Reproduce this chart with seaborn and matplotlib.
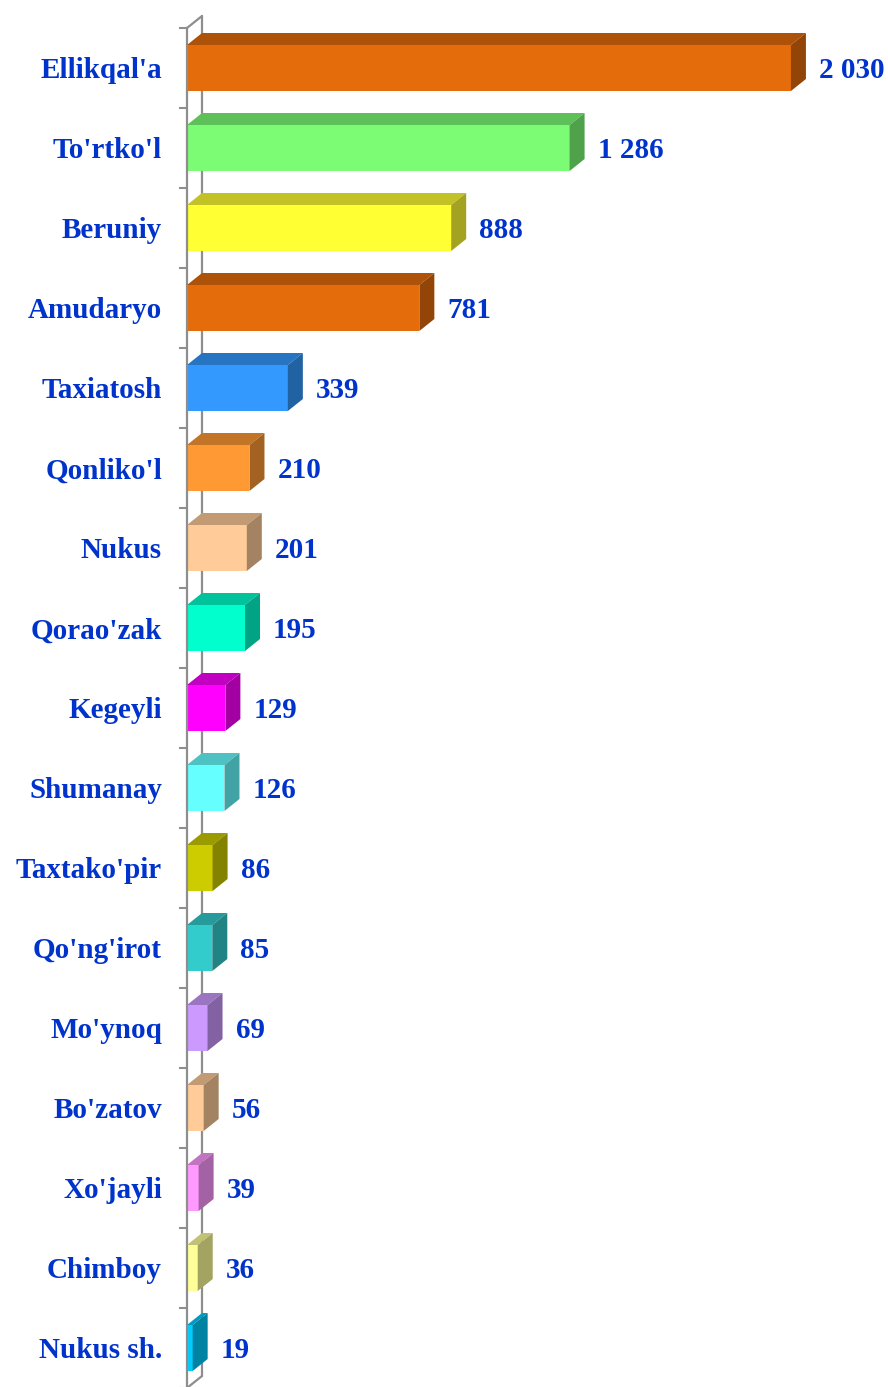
import numpy as np
import matplotlib
matplotlib.use("Agg")
import matplotlib.pyplot as plt
import seaborn as sns
from matplotlib.patches import Polygon
from matplotlib.lines import Line2D
from matplotlib import transforms, colors as mcolors

# data
regions = ["Ellikqal'a", "To'rtko'l", "Beruniy", "Amudaryo", "Taxiatosh", "Qonliko'l",
           "Nukus", "Qorao'zak", "Kegeyli", "Shumanay", "Taxtako'pir", "Qo'ng'irot",
           "Mo'ynoq", "Bo'zatov", "Xo'jayli", "Chimboy", "Nukus sh."]
values = [2030, 1286, 888, 781, 339, 210, 201, 195, 129, 126, 86, 85, 69, 56, 39, 36, 19]
value_labels = ["2 030", "1 286", "888", "781", "339", "210", "201", "195", "129", "126",
                "86", "85", "69", "56", "39", "36", "19"]
palette = ["#E46C0A", "#7CFC74", "#FFFF33", "#E46C0A", "#3399FF", "#FF9933", "#FFCC99",
           "#00FFCC", "#FF00FF", "#66FFFF", "#CCCC00", "#33CCCC", "#CC99FF", "#FFCC99",
           "#FF99FF", "#FFFF99", "#00CCFF"]

sns.set_style("white")
plt.rcParams['font.family'] = ['Liberation Serif', 'DejaVu Serif']

W, H, DPI = 888, 1387, 100
fig = plt.figure(figsize=(W / DPI, H / DPI), dpi=DPI)
ax = fig.add_axes([187 / W, -1 / H, (W - 187) / W, 1360 / H])

sns.barplot(x=values, y=regions, hue=regions, palette=palette, legend=False,
            orient="h", width=0.575, saturation=1, edgecolor="none", ax=ax)

px_per_unit = 0.2975
ax.set_xlim(0, (W - 187) / px_per_unit)
ax.set_ylim(len(regions) - 0.5, -0.5)

for s in ["top", "right", "bottom"]:
    ax.spines[s].set_visible(False)
wall = "#8e8e8e"
ax.spines["left"].set_color(wall)
ax.spines["left"].set_linewidth(1.6)
ax.set_xticks([])
ax.set_xlabel("")
ax.set_ylabel("")

ax.set_yticks(range(len(regions)))
ax.set_yticklabels(regions, fontsize=21, fontweight="bold", color="#0033CC")
ax.tick_params(axis="y", which="major", left=True, length=0, pad=18)
ax.set_yticks(np.arange(-0.5, len(regions), 1), minor=True)
ax.tick_params(axis="y", which="minor", left=True, length=5.8, width=1.5, color=wall)

# depth of the 3d look, in pixels
dx, dy = 15, 12
off = transforms.ScaledTranslation(dx / DPI, dy / DPI, fig.dpi_scale_trans)
back = ax.transAxes + off
ax.add_line(Line2D([0, 0], [1, 0], transform=back, color=wall, lw=1.6, zorder=0.5, clip_on=False))
top_pt = ax.transAxes.transform((0, 1))
bot_pt = ax.transAxes.transform((0, 0))
fig.add_artist(Line2D([top_pt[0], top_pt[0] + dx], [top_pt[1], top_pt[1] + dy],
                      transform=None, color=wall, lw=1.6, zorder=0.5))
fig.add_artist(Line2D([bot_pt[0], bot_pt[0] + dx], [bot_pt[1], bot_pt[1] + dy],
                      transform=None, color=wall, lw=1.6, zorder=0.5))

def shade(c, f):
    r, g, b = mcolors.to_rgb(c)
    return (r * f, g * f, b * f)

for i, p in enumerate(ax.patches):
    x0, y0 = p.get_x(), p.get_y()
    x1, y1 = x0 + p.get_width(), y0 + p.get_height()
    (ax0, ay0), (ax1, ay1) = ax.transData.transform([(x0, y0), (x1, y1)])
    left, right = ax0, ax1
    bottom, top = min(ay0, ay1), max(ay0, ay1)
    c = palette[i]
    topface = Polygon([(left, top), (right, top), (right + dx, top + dy), (left + dx, top + dy)],
                      closed=True, transform=None, facecolor=shade(c, 0.76), edgecolor="none")
    side = Polygon([(right, bottom), (right, top), (right + dx, top + dy), (right + dx, bottom + dy)],
                   closed=True, transform=None, facecolor=shade(c, 0.64), edgecolor="none")
    fig.add_artist(topface)
    fig.add_artist(side)
    ax.annotate(value_labels[i], xy=(x1, (y0 + y1) / 2), xytext=((dx + 13) * 0.72, 0),
                textcoords="offset points", va="center_baseline", ha="left",
                fontsize=21, fontweight="bold", color="#0033CC", annotation_clip=False)

fig.savefig("out.png", dpi=DPI)
